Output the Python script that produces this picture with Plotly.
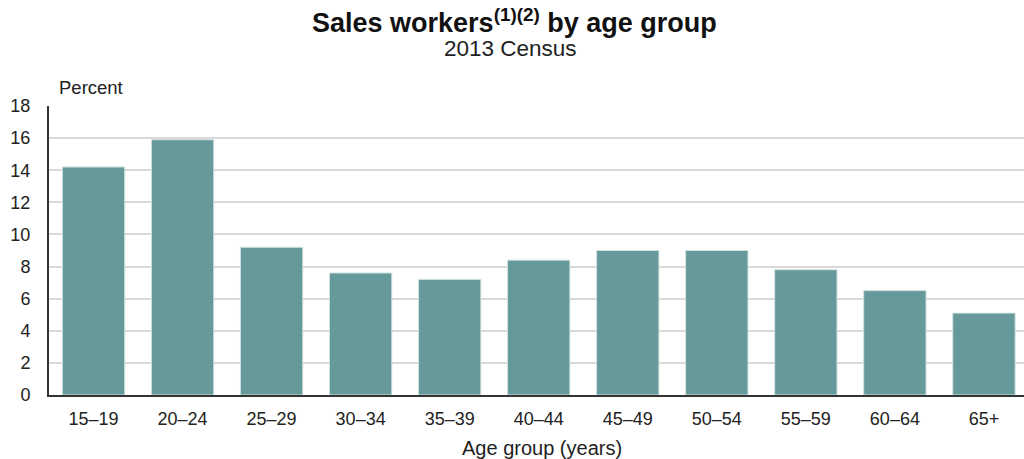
import plotly.graph_objects as go

categories = ["15–19", "20–24", "25–29", "30–34", "35–39", "40–44",
              "45–49", "50–54", "55–59", "60–64", "65+"]
percent = [14.2, 15.9, 9.2, 7.6, 7.2, 8.4, 9.0, 9.0, 7.8, 6.5, 5.1]
y_ticks = [0, 2, 4, 6, 8, 10, 12, 14, 16, 18]

FONT = "Liberation Sans, Arial, sans-serif"
TXT = "#222222"

fig = go.Figure(go.Bar(
    x=categories,
    y=percent,
    marker=dict(color="#669999", line=dict(color="#cfe0e0", width=1)),
    hoverinfo="x+y",
))

fig.update_layout(
    width=1024, height=459,
    margin=dict(l=49, r=0, t=106, b=64, autoexpand=False),
    paper_bgcolor="white", plot_bgcolor="white",
    bargap=0.3,
    showlegend=False,
    font=dict(family=FONT, size=18, color=TXT),
    xaxis=dict(
        range=[-0.5, 10.45], automargin=False,
        showline=True, linecolor="#333333", linewidth=2,
        showgrid=False, ticks="", ticklabelstandoff=6,
        tickfont=dict(size=18, color=TXT),
    ),
    yaxis=dict(
        range=[0, 18], tickvals=y_ticks, automargin=False,
        showline=True, linecolor="#333333", linewidth=2,
        showgrid=True, gridcolor="#d9d9d9", gridwidth=2,
        zeroline=False, ticks="", ticklabelstandoff=13,
        tickfont=dict(size=18, color=TXT),
    ),
    annotations=[
        dict(text="<b>Sales workers<sup>(1)(2)</sup> by age group</b>",
             xref="paper", yref="paper", x=(514 - 49) / 975, y=(395 - 21) / 289,
             xanchor="center", yanchor="middle", showarrow=False,
             font=dict(family=FONT, size=27, color="#111111")),
        dict(text="2013 Census",
             xref="paper", yref="paper", x=(510 - 49) / 975, y=(395 - 48) / 289,
             xanchor="center", yanchor="middle", showarrow=False,
             font=dict(family=FONT, size=22.5, color=TXT)),
        dict(text="Percent",
             xref="paper", yref="paper", x=(57 - 49) / 975, y=(395 - 88) / 289,
             xanchor="left", yanchor="middle", showarrow=False,
             font=dict(family=FONT, size=18.5, color=TXT)),
        dict(text="Age group (years)",
             xref="paper", yref="paper", x=(542 - 49) / 975, y=(395 - 448) / 289,
             xanchor="center", yanchor="middle", showarrow=False,
             font=dict(family=FONT, size=20, color=TXT)),
    ],
)

fig.write_html("out.html", config={"displayModeBar": False},
               post_script="document.body.style.margin='0';document.body.style.padding='0';")
